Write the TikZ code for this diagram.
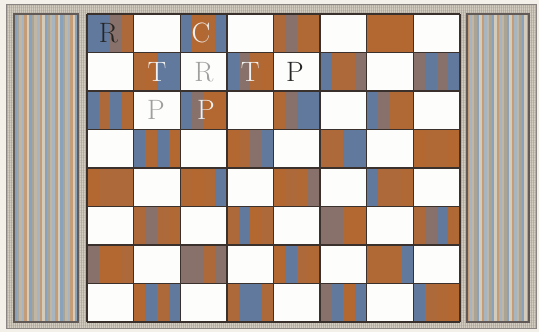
\documentclass[tikz,border=0pt]{standalone}
\definecolor{paper}{HTML}{F3F0EA}
\definecolor{framebg}{HTML}{D3CCC1}
\definecolor{hatchc}{HTML}{A39A90}
\definecolor{edge}{HTML}{3A302C}
\definecolor{woodo}{HTML}{B8672B}
\definecolor{woodb}{HTML}{4B7DB8}
\definecolor{sq}{HTML}{FDFDFB}
\definecolor{p0}{HTML}{A7B5C0}
\definecolor{p1}{HTML}{C49C78}
\definecolor{p2}{HTML}{D5CBBB}
\definecolor{p3}{HTML}{8AA3BA}
\definecolor{p4}{HTML}{ABA394}
\definecolor{p5}{HTML}{BFB6A6}
\tikzset{
  hatch/.style={hatchc, line width=0.3pt, opacity=0.55},
  gridline/.style={edge, line width=1.3pt},
  panelborder/.style={edge!80, line width=1.2pt},
  piecefont/.style={font=\fontsize{28}{28}\selectfont, inner sep=0pt},
  blackpiece/.style={piecefont, text=black!85},
  whitepiece/.style={piecefont, text=gray!75},
  whitepiecedark/.style={piecefont, text=white!88!gray},
}
\begin{document}
\begin{tikzpicture}[x=1pt,y=-1pt]
\useasboundingbox (0,0) rectangle (539,332);
\fill[paper] (0,0) rectangle (539,332);
% outer frame
\fill[framebg] (6,4) rectangle (536,328);
\foreach \x in {7,9,...,535} \draw[hatch] (\x,4) -- (\x,328);
\foreach \y in {5,7.5,...,327} \draw[hatch, opacity=0.25] (6,\y) -- (536,\y);
\draw[edge!60, line width=0.9pt] (6,4) rectangle (536,328);
% left panel stripes
\foreach \i in {0,...,24} {
  \pgfmathsetmacro\xa{14+\i*2.56}
  \pgfmathtruncatemacro\k{mod(\i*7+3,6)}
  \fill[p\k] (\xa,14) rectangle ++(2.6,308);
}
\draw[panelborder] (14,14) rectangle (78,322);
% right panel stripes
\foreach \i in {0,...,24} {
  \pgfmathsetmacro\xa{467+\i*2.48}
  \pgfmathtruncatemacro\k{mod(\i*5+1,6)}
  \fill[p\k] (\xa,14) rectangle ++(2.5,308);
}
\draw[panelborder] (467,14) rectangle (529,322);
% board squares
\pgfmathsetseed{11}
\foreach \r in {0,...,7}{
 \foreach \c in {0,...,7}{
  \pgfmathtruncatemacro\parity{mod(\r+\c,2)}
  \ifnum\parity=0
   \foreach \s in {0,...,3}{
     \pgfmathtruncatemacro\q{random(0,5)}
     \pgfmathtruncatemacro\m{\q<3 ? 4+3*\q : (\q<5 ? 80 : 45)}
     \fill[woodb!\m!woodo] ({87+\c*46.625+\s*46.625/4},{14+\r*38.5}) rectangle ++(11.9,38.5);
   }
  \else
   \fill[sq] ({87+\c*46.625},{14+\r*38.5}) rectangle ++(46.625,38.5);
  \fi
 }}
% grid
\foreach \c in {0,...,8} \draw[gridline] ({87+\c*46.625},14) -- ({87+\c*46.625},322);
\foreach \r in {0,...,8} \draw[gridline] (87,{14+\r*38.5}) -- (460,{14+\r*38.5});
% pieces
\node[blackpiece] (bR) at (108.5,33) {R};
\node[whitepiecedark] (wC) at (201,33) {C};
\node[whitepiecedark] (wT1) at (157,72) {T};
\node[whitepiece] (wR) at (204,72) {R};
\node[whitepiecedark] (wT2) at (250.2,72) {T};
\node[blackpiece] (bP) at (295,72) {P};
\node[whitepiece] (wP1) at (156,110) {P};
\node[whitepiecedark] (wP2) at (206,110) {P};
\end{tikzpicture}
\end{document}
